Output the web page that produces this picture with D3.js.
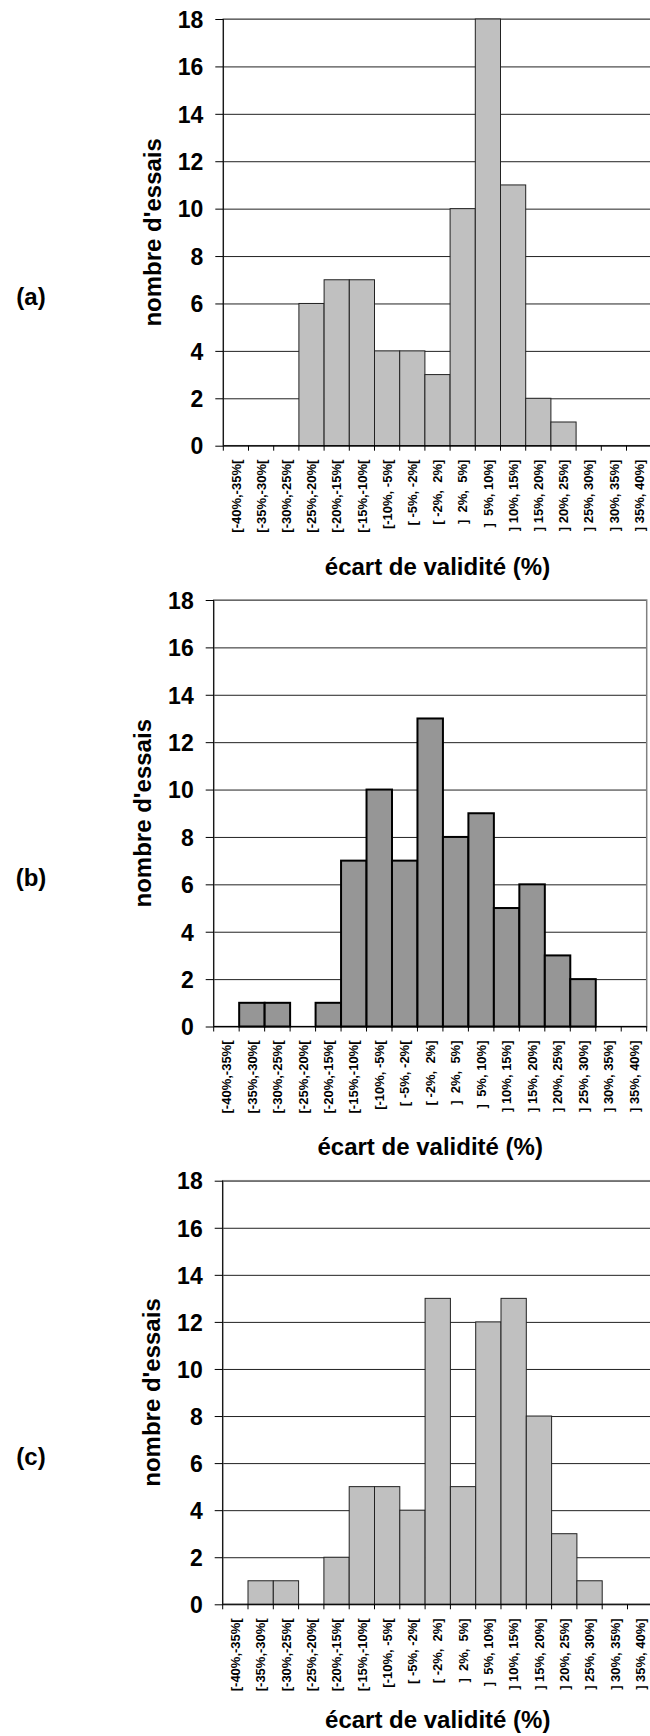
<!DOCTYPE html>
<html>
<head>
<meta charset="utf-8">
<script src="https://cdn.jsdelivr.net/npm/d3@7"></script>
<style>
  body { margin: 0; background: #fff; }
  svg text { font-family: "Liberation Sans", Arial, sans-serif; font-weight: bold; fill: #000; }
</style>
</head>
<body>
<div id="chart"></div>
<script>
// classes of the validity gap
var categories = ["[-40%,-35%[", "[-35%,-30%[", "[-30%,-25%[", "[-25%,-20%[", "[-20%,-15%[",
    "[-15%,-10%[", "[-10%, -5%[", "[ -5%, -2%[", "[ -2%,  2%]", "]  2%,  5%]", "]  5%, 10%]",
    "] 10%, 15%]", "] 15%, 20%]", "] 20%, 25%]", "] 25%, 30%]", "] 30%, 35%]", "] 35%, 40%]"];

// number of trials per class
var countsA = [0, 0, 0, 6, 7, 7, 4, 4, 3, 10, 18, 11, 2, 1, 0, 0, 0];
var countsB = [0, 1, 1, 0, 1, 7, 10, 7, 13, 8, 9, 5, 6, 3, 2, 0, 0];
var countsC = [0, 1, 1, 0, 2, 5, 5, 4, 13, 5, 12, 13, 8, 3, 1, 0, 0];

var yTicks = [0, 2, 4, 6, 8, 10, 12, 14, 16, 18];
var panelLabels = ["(a)", "(b)", "(c)"];
var yTitle = "nombre d'essais";
var xTitle = "écart de validité (%)";

// layout of each panel (plot area box in page pixels)
var layout = [
    {left: 223.3, right: 651.7, top: 19,    bottom: 445.7,  fill: "#c0c0c0", stroke: "#222", sw: 1, titleGap: 121},
    {left: 213.7, right: 646.7, top: 600,   bottom: 1026.5, fill: "#969696", stroke: "#000", sw: 2, titleGap: 120},
    {left: 222.7, right: 652.8, top: 1180.7, bottom: 1604.3, fill: "#c0c0c0", stroke: "#222", sw: 1, titleGap: 115.5}
];
var series = [countsA, countsB, countsC];

var svg = d3.select("#chart").append("svg")
    .attr("width", 650)
    .attr("height", 1736);

series.forEach(function(values, i) {
    var L = layout[i];
    var w = L.right - L.left, h = L.bottom - L.top;

    var x = d3.scaleBand().domain(categories).range([0, w]).padding(0);
    var y = d3.scaleLinear().domain([0, 18]).range([h, 0]);

    var g = svg.append("g").attr("transform", "translate(" + L.left + "," + L.top + ")");

    // gridlines
    g.append("g")
        .call(d3.axisLeft(y).tickValues(yTicks).tickSize(-w).tickFormat(""))
        .call(function(s) { s.select(".domain").remove(); })
        .selectAll("line").attr("stroke", "#222").attr("stroke-width", 1);

    // plot frame
    g.append("rect")
        .attr("x", 0).attr("y", 0).attr("width", w).attr("height", h)
        .attr("fill", "none").attr("stroke", "#808080").attr("stroke-width", 1.5);

    // bars
    g.selectAll(".bar")
        .data(values.map(function(v, k) { return {cat: categories[k], v: v}; }).filter(function(d) { return d.v > 0; }))
        .enter().append("rect")
        .attr("class", "bar")
        .attr("x", function(d) { return x(d.cat); })
        .attr("y", function(d) { return y(d.v); })
        .attr("width", x.bandwidth())
        .attr("height", function(d) { return y(0) - y(d.v); })
        .attr("fill", L.fill)
        .attr("stroke", L.stroke)
        .attr("stroke-width", L.sw);

    // y axis
    var ya = g.append("g")
        .call(d3.axisLeft(y).tickValues(yTicks).tickSize(8).tickPadding(12));
    ya.select(".domain").attr("stroke", "#000").attr("d", "M0," + h + "V0");
    ya.selectAll("line").attr("stroke", "#000");
    ya.selectAll("text").style("font-size", "23px").attr("dy", "0.36em");

    // x axis: baseline, ticks at class boundaries, rotated labels
    g.append("line")
        .attr("x1", 0).attr("x2", w).attr("y1", h).attr("y2", h)
        .attr("stroke", "#000");
    var bounds = categories.map(function(c) { return x(c); }).concat([w]);
    g.selectAll(".xtick")
        .data(bounds)
        .enter().append("line")
        .attr("class", "xtick")
        .attr("x1", function(d) { return d; }).attr("x2", function(d) { return d; })
        .attr("y1", h).attr("y2", h + 5)
        .attr("stroke", "#000");
    g.selectAll(".xlab")
        .data(categories)
        .enter().append("text")
        .attr("class", "xlab")
        .attr("transform", function(d) {
            return "translate(" + (x(d) + x.bandwidth() / 2) + "," + (h + 14) + ") rotate(-90)";
        })
        .attr("text-anchor", "end")
        .attr("dy", "0.36em")
        .style("font-size", "13px")
        .style("white-space", "pre")
        .text(function(d) { return d; });

    // axis titles
    g.append("text")
        .attr("transform", "translate(" + (-71) + "," + (h / 2) + ") rotate(-90)")
        .attr("text-anchor", "middle")
        .attr("dy", "0.36em")
        .style("font-size", "24px")
        .text(yTitle);
    g.append("text")
        .attr("x", w / 2)
        .attr("y", h + L.titleGap)
        .attr("text-anchor", "middle")
        .attr("dy", "0.36em")
        .style("font-size", "24px")
        .text(xTitle);

    // panel letter
    svg.append("text")
        .attr("x", 31)
        .attr("y", L.top + h / 2 + 64)
        .attr("text-anchor", "middle")
        .attr("dy", "0.36em")
        .style("font-size", "24px")
        .text(panelLabels[i]);
});
</script>
</body>
</html>
